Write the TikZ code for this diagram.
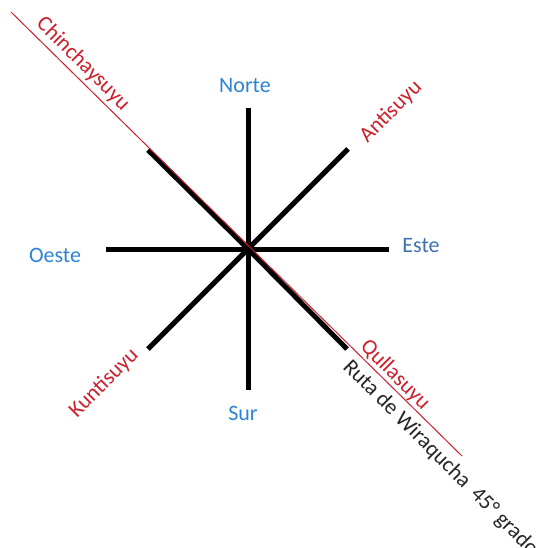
\documentclass[tikz,border=0pt]{standalone}
\usepackage{fontspec}
\setmainfont{Carlito}
\definecolor{dirblue}{RGB}{44,132,212}
\definecolor{estblue}{RGB}{62,112,178}
\definecolor{suyured}{RGB}{204,32,44}
\definecolor{rutagray}{RGB}{38,38,38}
\begin{document}
\begin{tikzpicture}[x=1pt,y=-1pt,
  spoke/.style={line width=5pt,black},
  redline/.style={line width=1pt,suyured},
  dirlabel/.style={font=\fontsize{22}{26}\selectfont,text=dirblue,inner sep=0pt},
  suyulabel/.style={font=\fontsize{22}{26}\selectfont,text=suyured,inner sep=0pt},
  rutalabel/.style={font=\fontsize{22}{26}\selectfont,text=rutagray,inner sep=0pt}]
\useasboundingbox (0,0) rectangle (538,548);
\clip (0,0) rectangle (538,548);
\fill[white] (0,0) rectangle (538,548);
\coordinate (c) at (248,249);
\coordinate (n) at (248,108);
\coordinate (s) at (248,390);
\coordinate (w) at (106,249);
\coordinate (e) at (389,249);
\coordinate (ne) at (348,149);
\coordinate (sw) at (148,349);
\coordinate (nw) at (148,150);
\coordinate (se) at (347,349);
\coordinate (r1) at (11,12);
\coordinate (r2) at (462,456);
\draw[spoke] (c) -- (n);
\draw[spoke] (c) -- (s);
\draw[spoke] (c) -- (w);
\draw[spoke] (c) -- (e);
\draw[spoke] (c) -- (ne);
\draw[spoke] (c) -- (sw);
\draw[spoke] (c) -- (nw);
\draw[spoke] (c) -- (se);
\draw[redline] (r1) -- (r2);
\node[dirlabel] (norte) at (245,86) {Norte};
\node[dirlabel] (sur) at (243,413) {Sur};
\node[dirlabel] (oeste) at (55,255) {Oeste};
\node[dirlabel,text=estblue] (este) at (421,246) {Este};
\node[suyulabel,rotate=-45] (chin) at (83,64) {Chinchaysuyu};
\node[suyulabel,rotate=45] (anti) at (391,112) {Antisuyu};
\node[suyulabel,rotate=45] (kunti) at (104,383) {Kuntisuyu};
\node[suyulabel,rotate=-45] (qulla) at (395,375) {Qullasuyu};
\node[rutalabel,rotate=-45,anchor=north west] (ruta) at (353,357) {Ruta de Wiraqucha\ \ 45° grados};
\end{tikzpicture}
\end{document}
